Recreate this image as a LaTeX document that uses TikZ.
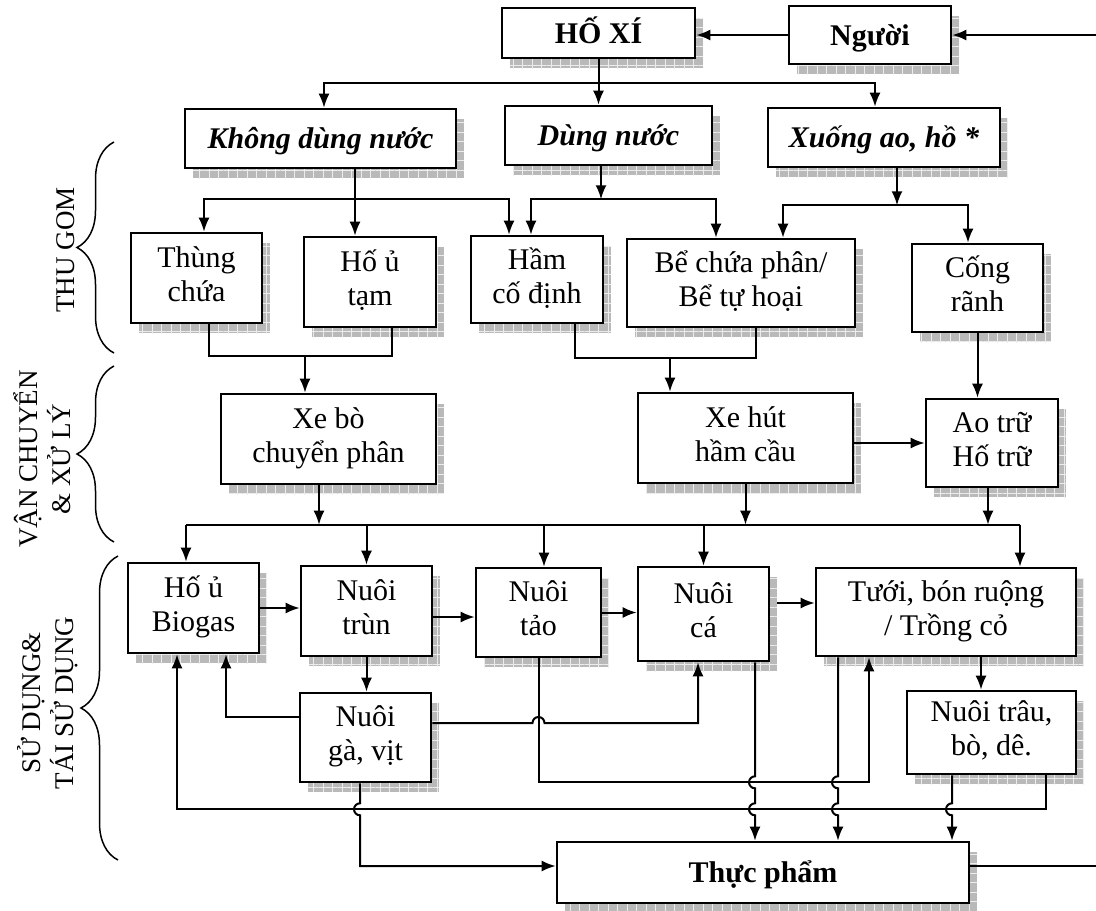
\documentclass[tikz,border=0pt]{standalone}
\usepackage{fontspec}
\setmainfont{Liberation Serif}
\usetikzlibrary{arrows.meta,shadows,calc,decorations.pathreplacing,patterns.meta}

\begin{document}
\begin{tikzpicture}[x=1pt,y=-1pt,
    >={Latex[length=14pt,width=11pt]},
    line width=2pt,
    procbox/.style={draw, line width=2.6pt, fill=white, align=center, inner sep=0pt,
      font=\fontsize{30}{34}\selectfont,
      execute at begin node={\rule{0pt}{28pt}},
      execute at end node={\rule[-8pt]{0pt}{8pt}},
      drop shadow={shadow xshift=8pt, shadow yshift=-10pt, fill=gray!55, opacity=1,
        postaction={pattern={Hatch[angle=0,distance=9.5pt,line width=0.8pt]}, pattern color=gray!15}}},
    boldbox/.style={procbox, font=\fontsize{30}{34}\selectfont\bfseries},
    italbox/.style={procbox, font=\fontsize{30}{34}\selectfont\bfseries\itshape},
    sidelabel/.style={rotate=90, align=center, font=\fontsize{27}{33}\selectfont},
    jumpv/.style={insert path={arc[start angle=270,end angle=90,radius=6]}},
    jumph/.style={insert path={arc[start angle=180,end angle=360,radius=6]}}]
            \useasboundingbox (0,0) rectangle (1096,911);
            % boxes
            \node[boldbox, minimum width=193, minimum height=50] (hoxi) at (598.5,33) {HỐ XÍ};
            \node[boldbox, minimum width=162, minimum height=58] (nguoi) at (870,35) {Người};
            \node[italbox, minimum width=271, minimum height=59] (khong) at (320.5,138.5) {Không dùng nước};
            \node[italbox, minimum width=207, minimum height=59] (dung) at (608.5,135.5) {Dùng nước};
            \node[italbox, minimum width=232, minimum height=59] (xuong) at (884,137.5) {Xuống ao, hồ *};
            \node[procbox, minimum width=131, minimum height=90] (thung) at (196.5,278) {Thùng\\chứa};
            \node[procbox, minimum width=132, minimum height=90] (hotam) at (370,282) {Hố ủ\\tạm};
            \node[procbox, minimum width=132, minimum height=87] (ham) at (537,279.5) {Hầm\\cố định};
            \node[procbox, minimum width=228, minimum height=88] (be) at (741,283) {Bể chứa phân/\\Bể tự hoại};
            \node[procbox, minimum width=131, minimum height=88] (cong) at (977.5,288) {Cống\\rãnh};
            \node[procbox, minimum width=215, minimum height=90] (xebo) at (328.5,439) {Xe bò\\chuyển phân};
            \node[procbox, minimum width=215, minimum height=90] (xehut) at (745.5,438) {Xe hút\\hầm cầu};
            \node[procbox, minimum width=132, minimum height=88] (aotru) at (992,443) {Ao trữ\\Hố trữ};
            \node[procbox, minimum width=131, minimum height=90] (biogas) at (193.5,608) {Hố ủ\\Biogas};
            \node[procbox, minimum width=131, minimum height=90] (trun) at (366.5,611) {Nuôi\\trùn};
            \node[procbox, minimum width=125, minimum height=89] (tao) at (538.5,612.5) {Nuôi\\tảo};
            \node[procbox, minimum width=131, minimum height=94] (ca) at (703.5,614) {Nuôi\\cá};
            \node[procbox, minimum width=260, minimum height=88] (tuoi) at (946,612) {Tưới, bón ruộng\\/ Trồng cỏ};
            \node[procbox, minimum width=131, minimum height=89] (ga) at (365.5,737.5) {Nuôi\\gà, vịt};
            \node[procbox, minimum width=169, minimum height=83] (trau) at (991.5,732.5) {Nuôi trâu,\\bò, dê.};
            \node[boldbox, minimum width=412, minimum height=61] (thucpham) at (763,872.5) {Thực phẩm};
            % side labels and braces
            \node[sidelabel] (lblthu) at (66,250) {THU GOM};
            \node[sidelabel] (lblvan) at (42,459) {VẬN CHUYỂN\\\& XỬ LÝ};
            \node[sidelabel] (lblsu) at (48,703) {SỬ DỤNG\&\\TÁI SỬ DỤNG};
            \draw[line width=1.5pt, decorate, decoration={brace, amplitude=37pt}] (114,353) -- (114,142);
            \draw[line width=1.5pt, decorate, decoration={brace, amplitude=37pt}] (114,542) -- (114,366);
            \draw[line width=1.5pt, decorate, decoration={brace, amplitude=37pt}] (118,860) -- (118,556);
            % the loop ends at the right border
            \coordinate (inR) at (1096,35);
            \coordinate (outR) at (1096,866);
            \draw[->] (inR) -- (nguoi.east);
            \draw[->] (nguoi.west) -- (nguoi.west -| hoxi.east);
            \draw (thucpham.east |- outR) -- (outR);
            % from HO XI
            \coordinate (hj) at ($(hoxi.south)+(0,24)$);
            \draw[->] (hoxi.south) -- (hoxi.south |- dung.north);
            \draw[->] (hj) -| ($(khong.north)+(3.5,0)$);
            \draw[->] (hj) -| ($(xuong.north)+(-9,0)$);
            % THU GOM
            \coordinate (kd) at ($(khong.south)+(34.5,0)$);
            \coordinate (kj) at ($(kd)+(0,30)$);
            \draw[->] (kd) -- (kd |- hotam.north);
            \draw[->] (kj) -| ($(thung.north)+(7.5,0)$);
            \draw[->] (kj) -| ($(ham.north)+(-28,0)$);
            \coordinate (dd) at ($(dung.south)+(-7.5,0)$);
            \coordinate (dj) at ($(dd)+(0,33)$);
            \draw[->] (dd) -- (dj);
            \draw[->] (dj) -| ($(ham.north)+(-6,0)$);
            \draw[->] (dj) -| ($(be.north)+(-25,0)$);
            \coordinate (xd) at ($(xuong.south)+(13,0)$);
            \coordinate (xj) at ($(xd)+(0,37)$);
            \draw[->] (xd) -- (xj);
            \draw[->] (xj) -| ($(be.north)+(42,0)$);
            \draw[->] (xj) -| ($(cong.north)+(-9.5,0)$);
            % VAN CHUYEN & XU LY
            \coordinate (tj) at ($(xebo.north)+(-23.5,-37)$);
            \draw ($(thung.south)+(12.5,0)$) |- (tj) -| ($(hotam.south)+(22,0)$);
            \draw[->] (tj) -- (tj |- xebo.north);
            \coordinate (hx) at ($(xehut.north)+(-75.5,-34)$);
            \draw ($(ham.south)+(38,0)$) |- (hx) -| ($(be.south)+(15,0)$);
            \draw[->] (hx) -- (hx |- xehut.north);
            \draw[->] (cong.south) -- (cong.south |- aotru.north);
            \draw[->] (aotru.west -| xehut.east) -- (aotru.west);
            % SU DUNG & TAI SU DUNG
            \coordinate (busL) at ($(biogas.north)+(-7.5,-37)$);
            \coordinate (busR) at ($(tuoi.north)+(74,-42)$);
            \draw (busL) -- (busR);
            \coordinate (xbd) at ($(xebo.south)+(-9.5,0)$);
            \coordinate (atd) at ($(aotru.south)+(-4,0)$);
            \coordinate (tad) at ($(tao.north)+(5.5,0)$);
            \draw[->] (xbd) -- (xbd |- busL);
            \draw[->] (xehut.south) -- (xehut.south |- busL);
            \draw[->] (atd) -- (atd |- busL);
            \draw[->] (busL) -- (busL |- biogas.north);
            \draw[->] (busL -| trun.north) -- (trun.north);
            \draw[->] (tad |- busL) -- (tad);
            \draw[->] (busL -| ca.north) -- (ca.north);
            \draw[->] (busR) -- (busR |- tuoi.north);
            \coordinate (trE) at ($(trun.east)+(0,6)$);
            \coordinate (caE) at ($(ca.east)+(7,-11)$);
            \coordinate (tud) at ($(tuoi.south)+(35,0)$);
            \draw[->] (biogas.east) -- (biogas.east -| trun.west);
            \draw[->] (trE) -- (trE -| tao.west);
            \draw[->] (tao.east) -- (tao.east -| ca.west);
            \draw[->] (caE) -- (caE -| tuoi.west);
            \draw[->] (tud) -- (tud |- trau.north);
            \draw[->] (trun.south) -- (trun.south |- ga.north);
            % back from Nuoi ga, vit
            \coordinate (gaW) at ($(ga.west)+(0,-20.5)$);
            \coordinate (gaE) at ($(ga.east)+(0,-14.5)$);
            \draw[->] (gaW) -| ($(biogas.south)+(32.5,0)$);
            \draw[->] (gaE) -- ($(gaE -| tao.south)+(-6,0)$) [jumph] -| ($(ca.south)+(-5.5,0)$);
            % the two long loops
            \coordinate (lowA) at ($(tao.south)+(0,124)$);
            \coordinate (trR) at ($(trau.south)+(54.5,0)$);
            \coordinate (lowB) at ($(trR)+(0,34)$);
            \draw[->] (tao.south) -- (lowA) -| ($(tuoi.south)+(-77,0)$);
            \draw[->] (trR) -- (lowB) -| ($(biogas.south)+(-16.5,0)$);
            % down to Thuc pham, hopping over the loops
            \coordinate (gaS) at ($(ga.south)+(-5.5,0)$);
            \coordinate (caS) at ($(ca.south)+(51.5,0)$);
            \coordinate (tuS) at ($(tuoi.south)+(-108,0)$);
            \coordinate (trL) at ($(trau.south)+(-39.5,0)$);
            \draw[->] (gaS) -- ($(gaS |- lowB)+(0,-6)$) [jumpv] |- ($(thucpham.west)+(0,-6.5)$);
            \draw[->] (caS) -- ($(caS |- lowA)+(0,-6)$) [jumpv] -- ($(caS |- lowB)+(0,-6)$) [jumpv] -- (caS |- thucpham.north);
            \draw[->] (tuS) -- ($(tuS |- lowA)+(0,-6)$) [jumpv] -- ($(tuS |- lowB)+(0,-6)$) [jumpv] -- (tuS |- thucpham.north);
            \draw[->] (trL) -- ($(trL |- lowB)+(0,-6)$) [jumpv] -- (trL |- thucpham.north);
        \end{tikzpicture}
\end{document}
